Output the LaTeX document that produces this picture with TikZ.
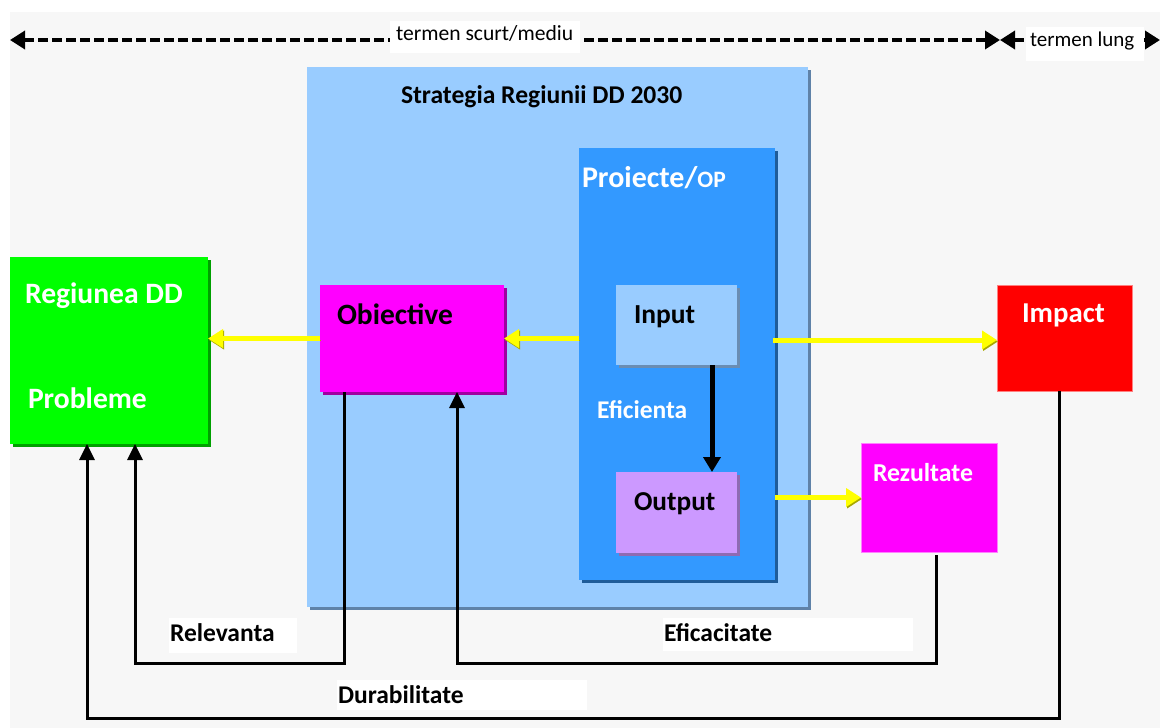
\documentclass[tikz,border=0pt]{standalone}
\usepackage{fontspec}
\setmainfont{Carlito}
\usetikzlibrary{arrows.meta,calc}
\definecolor{bgc}{HTML}{F7F7F7}
\definecolor{stratc}{HTML}{99CCFF}
\definecolor{stratsh}{HTML}{5F82A8}
\definecolor{projc}{HTML}{3399FF}
\definecolor{projsh}{HTML}{1F5C99}
\definecolor{inpsh}{HTML}{6A8DB3}
\definecolor{outc}{HTML}{CC99FF}
\definecolor{outsh}{HTML}{8E6BB3}
\definecolor{magc}{HTML}{FF00FF}
\definecolor{magsh}{HTML}{A000A0}
\definecolor{grc}{HTML}{00FF00}
\definecolor{grsh}{HTML}{00A000}
\definecolor{yel}{HTML}{FFFF00}
\definecolor{yelsh}{HTML}{A8A800}
\newcommand\fsz[1]{\fontsize{#1}{#1}\selectfont}
\begin{document}
\begin{tikzpicture}[x=1pt,y=-1pt,
  box/.style={inner sep=0pt, outer sep=0pt, anchor=north west, draw=none},
  shad/.style={preaction={fill=#1, transform canvas={shift={(3pt,-3pt)}}}},
  lbl/.style={anchor=base west, inner sep=0pt, outer sep=0pt},
  wbox/.style={fill=white, inner sep=0pt, outer sep=0pt, anchor=north west, draw=none},
  yarrow/.style={draw=yel, line width=5pt, -{Triangle[length=15pt,width=18pt]},
     preaction={draw=yelsh, transform canvas={shift={(1pt,-1.5pt)}}}},
  barrow/.style={draw=black, line width=3pt, -{Triangle[length=16pt,width=15pt]}},
  toparrow/.style={draw=black, line width=3.5pt, dash pattern=on 10pt off 4pt,
     {Triangle[length=15pt,width=18pt]}-{Triangle[length=15pt,width=18pt]}}
]
\useasboundingbox (0,0) rectangle (1160,728);
\fill[bgc] (10,12) rectangle (1160,728);

% boxes
\node[box, shad=stratsh, fill=stratc, minimum width=501pt, minimum height=540pt] (strat) at (307,67) {};
\node[box, shad=projsh, fill=projc, minimum width=196pt, minimum height=432pt] (proj) at (579,148) {};
\node[box, shad=inpsh, fill=stratc, minimum width=121pt, minimum height=80pt] (inp) at (616,285) {};
\node[box, shad=outsh, fill=outc, minimum width=121pt, minimum height=81pt] (outp) at (616,472) {};
\node[box, shad=magsh, fill=magc, minimum width=184pt, minimum height=107pt] (obj) at (320,285) {};
\node[box, shad=grsh, fill=grc, minimum width=198pt, minimum height=187pt] (reg) at (10,257) {};
\node[box, fill=red, draw=red!50, line width=1pt, minimum width=135pt, minimum height=106pt] (imp) at (997,285) {};
\node[box, fill=magc, draw=magc!50, line width=1pt, minimum width=136pt, minimum height=109pt] (rez) at (861,443) {};

% texts in boxes
\node[lbl, font={\fsz{25.6}\bfseries}] (tstrat) at (401,103) {Strategia Regiunii DD 2030};
\node[lbl, text=white, font={\fsz{30}\bfseries}] (tproj) at (582,187) {Proiecte/{\fsz{23.5}OP}};
\node[lbl, text=white, font={\fsz{29.6}\bfseries}] (treg) at (25,303) {Regiunea DD};
\node[lbl, text=white, font={\fsz{29.6}\bfseries}] (tprob) at (28,408) {Probleme};
\node[lbl, font={\fsz{29.5}\bfseries}] (tobj) at (337,324) {Obiective};
\node[lbl, font={\fsz{27.5}\bfseries}] (tinp) at (634,323) {Input};
\node[lbl, font={\fsz{27.3}\bfseries}] (tout) at (634,510) {Output};
\node[lbl, text=white, font={\fsz{25.5}\bfseries}] (teff) at (597,418) {Eficienta};
\node[lbl, text=white, font={\fsz{28.8}\bfseries}] (timp) at (1022,322) {Impact};
\node[lbl, text=white, font={\fsz{25.8}\bfseries}] (trez) at (873,481) {Rezultate};

% yellow arrows
\draw[yarrow] (obj.west) -- (obj.west -| reg.east);
\draw[yarrow] (obj.east -| proj.west) -- (obj.east);
\draw[yarrow] ($(imp.west -| proj.east)+(-2,2)$) -- ($(imp.west)+(0,2)$);
\draw[yarrow] (rez.west -| proj.east) -- (rez.west);

% Input -> Output
\draw[draw=black, line width=5pt, -{Triangle[length=15pt,width=17pt]}]
  ($(inp.south west)+(96,0)$) -- ($(outp.north west)+(96,0)$);

% feedback loops
\draw[barrow] ($(obj.south west)+(24,0)$) -- ++(0,271) -| ($(reg.south west)+(125,0)$);
\draw[barrow] ($(rez.south west)+(75,3)$) -- ++(0,108) -| ($(obj.south west)+(137,0)$);
\draw[barrow] ($(imp.south west)+(62,0)$) -- ++(0,327) -| ($(reg.south west)+(77,0)$);

% label boxes
\node[wbox, minimum width=128pt, minimum height=35pt] (brel) at (169,618) {};
\node[lbl, font={\fsz{25.5}\bfseries}] (trel) at (170,641) {Relevanta};
\node[wbox, minimum width=250pt, minimum height=33pt] (beff) at (663,618) {};
\node[lbl, font={\fsz{25.5}\bfseries}] (teffc) at (664,641) {Eficacitate};
\node[wbox, minimum width=250pt, minimum height=30pt] (bdur) at (337,680) {};
\node[lbl, font={\fsz{25.5}\bfseries}] (tdur) at (338,703) {Durabilitate};

% top time axis
\coordinate (a1) at (10,40);
\coordinate (a2) at (1000,40);
\coordinate (a3) at (1160,40);
\draw[toparrow] (a1) -- (a2);
\draw[toparrow] (a2) -- (a3);
\node[wbox, minimum width=190pt, minimum height=32pt] (bscurt) at (390,21) {};
\node[lbl, font={\fsz{21.6}}] (tscurt) at (396,40) {termen scurt/mediu};
\node[wbox, minimum width=118pt, minimum height=34pt] (blung) at (1026,27) {};
\node[lbl, font={\fsz{21}}] (tlung) at (1030,46) {termen lung};
\end{tikzpicture}
\end{document}
